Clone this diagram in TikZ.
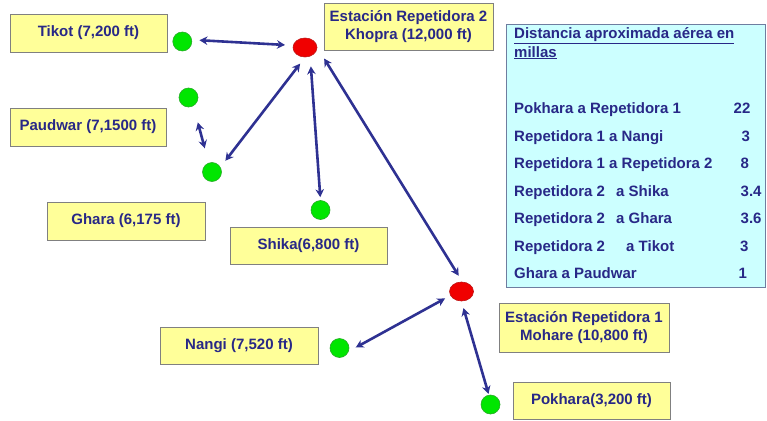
\documentclass[tikz,border=0pt]{standalone}
\usepackage{fontspec}
\setmainfont{Liberation Sans}
\usetikzlibrary{arrows.meta,shapes.geometric}

\definecolor{ink}{RGB}{40,40,135}
\definecolor{linkblue}{RGB}{46,49,146}
\definecolor{boxfill}{RGB}{255,255,153}
\definecolor{boxline}{RGB}{128,128,128}
\definecolor{tablefill}{RGB}{204,255,255}
\definecolor{tableline}{RGB}{110,125,160}
\definecolor{dotgreen}{RGB}{0,230,0}
\definecolor{dotgreenline}{RGB}{40,170,40}
\definecolor{dotred}{RGB}{240,0,0}
\definecolor{dotredline}{RGB}{190,20,20}

\tikzset{
  label box/.style={draw=boxline, line width=0.8pt, fill=boxfill, text=ink,
    align=center, inner sep=0pt, minimum width=#1},
  label box/.default=157pt,
  site/.style={circle, draw=dotgreenline, line width=0.6pt, fill=dotgreen,
    minimum size=19pt, inner sep=0pt},
  relay/.style={ellipse, draw=dotredline, line width=0.6pt, fill=dotred,
    minimum width=24pt, minimum height=19pt, inner sep=0pt},
  radiolink/.style={draw=linkblue, line width=2.6pt,
    {Stealth[length=8pt,width=8.5pt]}-{Stealth[length=8pt,width=8.5pt]}},
  row/.style={anchor=base west, inner sep=0pt, text=ink},
}

\begin{document}
\begin{tikzpicture}[x=1pt, y=-1pt, font=\fontsize{15}{18}\selectfont\bfseries]
  \useasboundingbox (0,0) rectangle (767,420);

  % station labels
  \node[label box, minimum height=38pt] (tikotlbl) at (88.5,33) {Tikot (7,200 ft)};
  \node[label box=156pt, minimum height=38pt] (paudwarlbl) at (88,127) {Paudwar (7,1500 ft)};
  \node[label box=158pt, minimum height=38pt] (gharalbl) at (126,221) {Ghara (6,175 ft)};
  \node[label box, minimum height=37pt] (shikalbl) at (308.5,245.5) {Shika(6,800 ft)};
  \node[label box=158pt, minimum height=37pt] (nangilbl) at (239,345.5) {Nangi (7,520 ft)};
  \node[label box=169pt, minimum height=47pt] (rep2lbl) at (408.5,27)
    {Estación Repetidora 2\\Khopra (12,000 ft)};
  \node[label box=170pt, minimum height=49pt] (rep1lbl) at (584,327.5)
    {Estación Repetidora 1\\Mohare (10,800 ft)};
  \node[label box, minimum height=37pt] (pokharalbl) at (591.5,401) {Pokhara(3,200 ft)};

  % sites and relays
  \node[site] (tikot) at (182.3,41.5) {};
  \node[site] (paudwar) at (188.5,97.5) {};
  \node[site] (ghara) at (212,172) {};
  \node[site] (shika) at (320.5,210) {};
  \node[site] (nangi) at (339.5,348) {};
  \node[site] (pokhara) at (490.5,404.5) {};
  \node[relay] (rep2) at (305,47.5) {};
  \node[relay] (rep1) at (461.5,291.5) {};

  % radio links
  \draw[radiolink, shorten <=7.5pt, shorten >=8pt] (tikot.10) -- (rep2.170);
  \draw[radiolink, shorten <=17pt, shorten >=15pt] (paudwar.-60) -- (ghara.110);
  \draw[radiolink, shorten <=8pt, shorten >=8pt] (rep2.south) -- (ghara.30);
  \draw[radiolink, shorten <=10pt, shorten >=3pt] (rep2.-60) -- (shika.north);
  \draw[radiolink, shorten <=13pt, shorten >=7pt] (rep2.east) -- (rep1.85);
  \draw[radiolink, shorten <=6pt, shorten >=8pt] (rep1.200) -- (nangi.-20);
  \draw[radiolink, shorten <=7pt, shorten >=1pt] (rep1.south) -- (pokhara.100);

  % distance table
  \node[draw=tableline, line width=0.8pt, fill=tablefill, minimum width=259pt,
    minimum height=263pt, inner sep=0pt] (table) at (635.5,155.5) {};
  \node[row] (title1) at (514,39) {\underline{Distancia aproximada aérea en}};
  \node[row] (title2) at (514,57) {\underline{millas}};

  \node[row] (r1) at (514,113.5) {Pokhara a Repetidora 1};
  \node[row] (r2) at (514,141) {Repetidora 1 a Nangi};
  \node[row] (r3) at (514,168.5) {Repetidora 1 a Repetidora 2};
  \node[row] (r4) at (514,196) {Repetidora 2\hspace{7pt} a Shika};
  \node[row] (r5) at (514,223.5) {Repetidora 2\hspace{7pt} a Ghara};
  \node[row] (r6) at (514,251) {Repetidora 2\hspace{17pt} a Tikot};
  \node[row] (r7) at (514,278.5) {Ghara a Paudwar};

  \node[row] (v1) at (733.5,113.5) {22};
  \node[row] (v2) at (741.5,141) {3};
  \node[row] (v3) at (740.5,168.5) {8};
  \node[row] (v4) at (740.5,196) {3.4};
  \node[row] (v5) at (740.5,223.5) {3.6};
  \node[row] (v6) at (740,251) {3};
  \node[row] (v7) at (738.5,278.5) {1};
\end{tikzpicture}
\end{document}
